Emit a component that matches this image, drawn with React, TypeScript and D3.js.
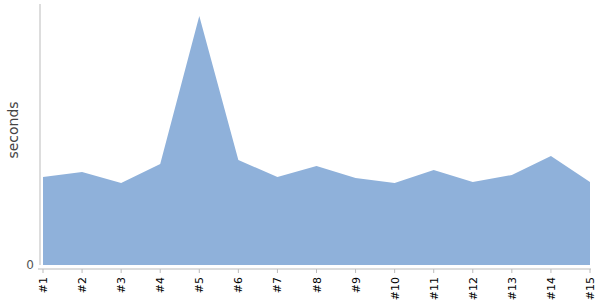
import React from "react";
import * as d3 from "d3";

const labels = ["#1","#2","#3","#4","#5","#6","#7","#8","#9","#10","#11","#12","#13","#14","#15"];
const seconds = [0.88,0.93,0.82,1.01,2.49,1.05,0.88,0.99,0.87,0.82,0.95,0.83,0.90,1.09,0.83];

const W = 600, H = 300;
const left = 43, right = 590, top = 4, bottom = 265;

export default function App() {
  const x = d3.scalePoint<string>().domain(labels).range([left, right]).padding(0);
  const y = d3.scaleLinear().domain([0, (d3.max(seconds) as number) * 1.048]).range([bottom, top]);
  const data = labels.map((l, i) => ({ l, v: seconds[i] }));
  const area = d3.area<{ l: string; v: number }>()
    .x(d => x(d.l) as number)
    .y0(y(0))
    .y1(d => y(d.v))
    .curve(d3.curveLinear);
  const axisY = 269;
  return (
    <svg width={W} height={H} style={{ position: "absolute", left: 0, top: 0 }} fontFamily="DejaVu Sans, Verdana, sans-serif">
      <path d={area(data) || ""} fill="#8fb1da" />
      <line x1={40} x2={40} y1={top} y2={bottom} stroke="#bbb" strokeWidth={1} />
      <line x1={38} x2={591} y1={axisY} y2={axisY} stroke="#bbb" strokeWidth={1} />
      {labels.map(l => (
        <g key={l}>
          <line x1={x(l)} x2={x(l)} y1={axisY} y2={axisY + 4} stroke="#bbb" />
          <text
            transform={`translate(${(x(l) as number) + 4},${axisY + 8}) rotate(-90)`}
            textAnchor="end"
            fontSize={11}
            fill="#000"
          >{l}</text>
        </g>
      ))}
      <text x={34} y={y(0)} dy="0.35em" textAnchor="end" fontSize={12} fill="#555">0</text>
      <text transform={`translate(18,130) rotate(-90)`} textAnchor="middle" fontSize={14} fill="#444">seconds</text>
    </svg>
  );
}
